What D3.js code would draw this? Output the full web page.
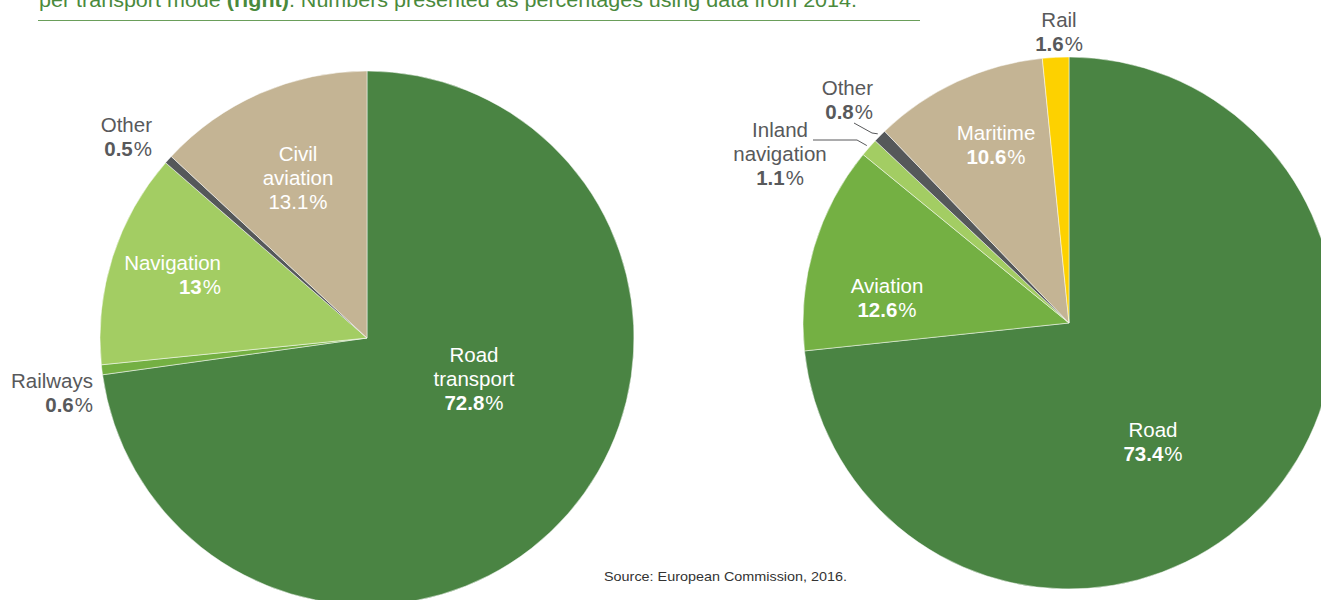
<!DOCTYPE html>
<html>
<head>
<meta charset="utf-8">
<script src="https://cdn.jsdelivr.net/npm/d3@7"></script>
<style>
  body { margin: 0; background: #fff; }
  svg { display: block; font-family: "Liberation Sans", Arial, Helvetica, sans-serif; }
</style>
</head>
<body>
<svg id="chart" width="1321" height="600"></svg>
<script>
// Transport emissions shares, 2014 (%)
const sectorNames  = ["Road transport", "Railways", "Navigation", "Other", "Civil aviation"];
const sectorShares = [72.8, 0.6, 13, 0.5, 13.1];

const modeNames  = ["Road", "Aviation", "Inland navigation", "Other", "Maritime", "Rail"];
const modeShares = [73.4, 12.6, 1.1, 0.8, 10.6, 1.6];

const captionText = ["per transport mode ", "(right)", ". Numbers presented as percentages using data from 2014."];
const sourceText  = "Source: European Commission, 2016.";

// Palette
const C = {
  road: "#4a8443", mid: "#74b043", light: "#a3cd63",
  grey: "#55585a", sand: "#c4b494", yellow: "#fdd100",
  textGrey: "#58595b", caption: "#4a8a3c", rule: "#6a9e5a"
};
const sectorColors = [C.road, C.mid, C.light, C.grey, C.sand];
const modeColors   = [C.road, C.mid, C.light, C.grey, C.sand, C.yellow];

// Label placement relative to each pie centre
const sectorLabels = [
  { lines: ["Road", "transport"], anchor: "middle", dx: 107,  dy: 24,   fill: "#fff",       bold: true },
  { lines: ["Railways"],          anchor: "end",    dx: -274, dy: 50,   fill: C.textGrey,   bold: true },
  { lines: ["Navigation"],        anchor: "end",    dx: -146, dy: -68,  fill: "#fff",       bold: true },
  { lines: ["Other"],             anchor: "end",    dx: -215, dy: -206, fill: C.textGrey,   bold: true },
  { lines: ["Civil", "aviation"], anchor: "middle", dx: -69,  dy: -177, fill: "#fff",       bold: false }
];
const modeLabels = [
  { lines: ["Road"],               anchor: "middle", dx: 84,   dy: 114,  fill: "#fff",     bold: true },
  { lines: ["Aviation"],           anchor: "middle", dx: -182, dy: -30,  fill: "#fff",     bold: true },
  { lines: ["Inland", "navigation"], anchor: "middle", dx: -289, dy: -186, fill: C.textGrey, bold: true,
    leader: [[-256, -183], [-212, -183]] },
  { lines: ["Other"],              anchor: "end",    dx: -196, dy: -228, fill: C.textGrey, bold: true,
    leader: [[-215, -200], [-197, -190]] },
  { lines: ["Maritime"],           anchor: "middle", dx: -73,  dy: -183, fill: "#fff",     bold: true },
  { lines: ["Rail"],               anchor: "middle", dx: -10,  dy: -296, fill: C.textGrey, bold: true }
];

const svg = d3.select("#chart");
const FONT = 20.5, LINE = 23.8;

// Caption (continuation of the figure title) and rule
const cap = svg.append("text")
  .attr("x", 39).attr("y", 7)
  .attr("fill", C.caption)
  .attr("font-size", 21)
  .attr("textLength", 818).attr("lengthAdjust", "spacingAndGlyphs");
captionText.forEach((t, i) => cap.append("tspan").text(t).attr("font-weight", i === 1 ? "bold" : null));

svg.append("line")
  .attr("x1", 38).attr("x2", 920).attr("y1", 20.5).attr("y2", 20.5)
  .attr("stroke", C.rule).attr("stroke-width", 1);

function drawPie(cx, cy, r, names, values, colors, labels) {
  const pie = d3.pie().sort(null).value(d => d.value);
  const arcs = pie(names.map((n, i) => ({ name: n, value: values[i], color: colors[i], label: labels[i] })));
  const arc = d3.arc().innerRadius(0).outerRadius(r);
  const g = svg.append("g").attr("transform", `translate(${cx},${cy})`);

  g.selectAll("path.slice").data(arcs).join("path")
    .attr("class", "slice")
    .attr("d", arc)
    .attr("fill", d => d.data.color)
    .attr("stroke", "#fff")
    .attr("stroke-width", 0.5)
    .attr("stroke-linejoin", "round");

  // Leader lines for small slices
  arcs.filter(d => d.data.label.leader).forEach(d => {
    const mid = (d.startAngle + d.endAngle) / 2;
    const end = [Math.sin(mid) * (r + 3), -Math.cos(mid) * (r + 3)];
    g.append("path")
      .attr("d", d3.line()([...d.data.label.leader, end]))
      .attr("fill", "none")
      .attr("stroke", C.textGrey)
      .attr("stroke-width", 1);
  });

  // Labels: name lines, then value with percent sign
  arcs.forEach(d => {
    const L = d.data.label;
    const t = g.append("text")
      .attr("x", L.dx).attr("y", L.dy)
      .attr("text-anchor", L.anchor)
      .attr("font-size", FONT)
      .attr("fill", L.fill);
    L.lines.forEach((ln, i) => {
      t.append("tspan").attr("x", L.dx).attr("dy", i === 0 ? 0 : LINE).text(ln);
    });
    const v = t.append("tspan").attr("x", L.dx).attr("dy", LINE);
    v.append("tspan").attr("font-weight", L.bold ? "bold" : null)
      .text(d3.format("~")(d.data.value));
    v.append("tspan").attr("dx", 1).text("%");
  });
}

drawPie(367, 338, 267, sectorNames, sectorShares, sectorColors, sectorLabels);
drawPie(1069, 323, 266, modeNames, modeShares, modeColors, modeLabels);

// Source note
svg.append("text")
  .attr("x", 604).attr("y", 581)
  .attr("font-size", 13.5)
  .attr("fill", "#333")
  .attr("textLength", 243).attr("lengthAdjust", "spacingAndGlyphs")
  .text(sourceText);
</script>
</body>
</html>
